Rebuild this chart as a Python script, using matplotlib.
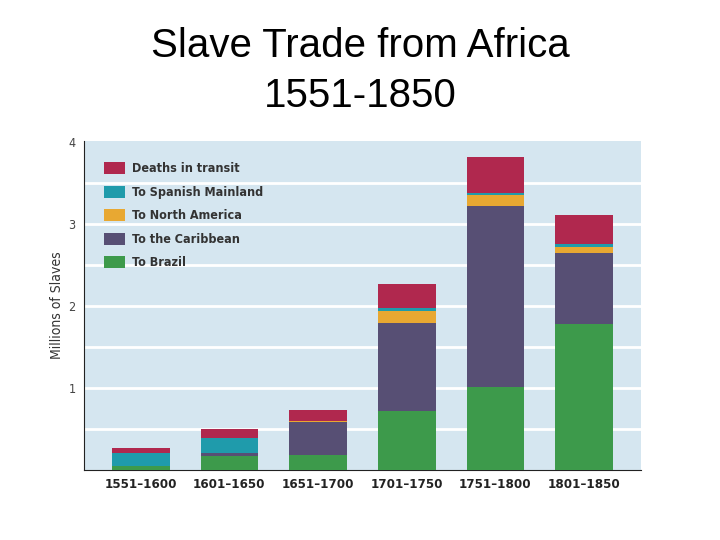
import matplotlib.pyplot as plt
import numpy as np

# values in millions
periods = ["1551–1600", "1601–1650", "1651–1700", "1701–1750", "1751–1800", "1801–1850"]
brazil = [0.05, 0.17, 0.18, 0.72, 1.01, 1.78]
caribbean = [0.00, 0.04, 0.41, 1.07, 2.21, 0.87]
north_america = [0.00, 0.00, 0.01, 0.15, 0.13, 0.07]
spanish = [0.16, 0.18, 0.00, 0.03, 0.02, 0.04]
deaths = [0.06, 0.11, 0.13, 0.30, 0.44, 0.35]

series = [
    ("To Brazil", brazil, "#3d9a4b"),
    ("To the Caribbean", caribbean, "#574f74"),
    ("To North America", north_america, "#e8a832"),
    ("To Spanish Mainland", spanish, "#1f9bab"),
    ("Deaths in transit", deaths, "#b0284e"),
]

fig = plt.figure(figsize=(7.2, 5.4), dpi=100)
ax = fig.add_axes([0.1167, 0.1296, 0.7733, 0.6094])
ax.set_facecolor("#d5e6f0")

x = np.arange(len(periods))
bottom = np.zeros(len(periods))
handles = []
for name, vals, col in series:
    b = ax.bar(x, vals, 0.65, bottom=bottom, color=col, label=name, zorder=3)
    handles.append(b)
    bottom += np.array(vals)

for g in np.arange(0.5, 4.0, 0.5):
    ax.axhline(g, color="white", lw=2, zorder=1)

ax.set_xlim(-0.64, 5.64)
ax.set_ylim(0, 4.01)
ax.set_xticks(x)
ax.set_xticklabels(periods, fontsize=9.5, fontweight="bold", color="#222222",
                   family="DejaVu Sans", fontstretch="condensed")
ax.set_yticks([1, 2, 3, 4])
ax.set_yticklabels(["1", "2", "3", "4"], fontsize=9, color="#444444",
                   family="DejaVu Sans", fontstretch="condensed")
ax.tick_params(length=0, pad=6)
ax.set_ylabel("Millions of Slaves", fontsize=10, color="#333333", labelpad=3,
              family="DejaVu Sans", fontstretch="condensed")

for s in ["top", "right"]:
    ax.spines[s].set_visible(False)
ax.spines["left"].set_color("#222222")
ax.spines["bottom"].set_color("#222222")

leg = ax.legend(handles[::-1], [s[0] for s in series][::-1], loc="upper left",
                bbox_to_anchor=(0.015, 0.97), frameon=False,
                prop={"family": "DejaVu Sans", "size": 9, "weight": "bold",
                      "stretch": "condensed"},
                handlelength=1.7, handleheight=1.1, labelspacing=0.82, handletextpad=0.6)
for t in leg.get_texts():
    t.set_color("#333333")

fig.text(0.5, 0.915, "Slave Trade from Africa", ha="center", va="center",
         fontsize=29, family="Liberation Sans")
fig.text(0.5, 0.822, "1551-1850", ha="center", va="center",
         fontsize=29, family="Liberation Sans")

fig.savefig("out.png", dpi=100)
